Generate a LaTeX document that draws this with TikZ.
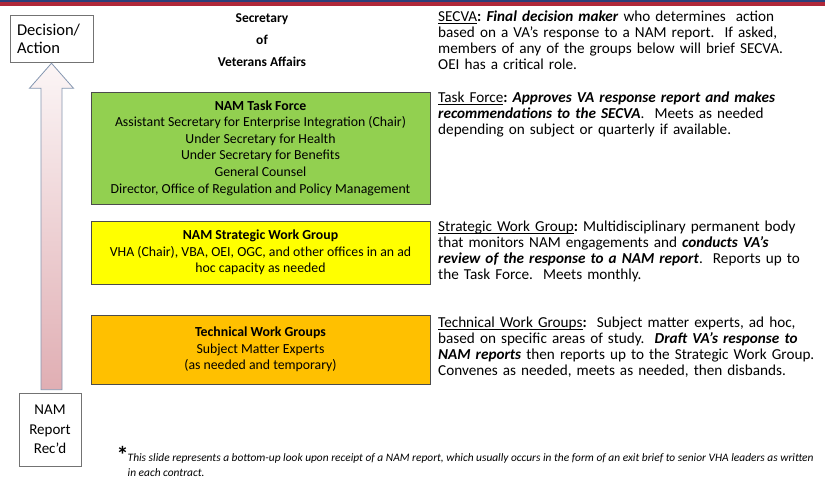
\documentclass[tikz,border=0pt]{standalone}
\usepackage{fontspec}
\setmainfont{Carlito}
\usetikzlibrary{calc}
\frenchspacing
\newcommand\ulabel[1]{\underline{\smash{#1}}}

\definecolor{vablue}{HTML}{2B3F7A}
\definecolor{vared}{HTML}{B0283A}
\definecolor{tfgreen}{HTML}{92D050}
\definecolor{swgyellow}{HTML}{FFFF00}
\definecolor{twgorange}{HTML}{FFC000}
\definecolor{arrowline}{HTML}{8496B0}
\definecolor{arrowpink}{HTML}{E0AEB3}

\begin{document}
\begin{tikzpicture}[x=1pt,y=-1pt,
    group/.style={draw=black!70,line width=0.6pt,minimum width=339pt,align=center,
      font=\fontsize{13.8}{16.6}\selectfont},
    endbox/.style={draw=black!55,line width=0.5pt},
    note/.style={anchor=north west,inner sep=0pt,text width=400pt,align=left,
      font=\fontsize{15.2}{16}\selectfont}]
  \useasboundingbox (0,0) rectangle (825,478);
  \fill[vablue] (0,0) rectangle (825,2.5);
  \fill[vared] (0,2.5) rectangle (825,6);

  % left: bottom-up arrow
  \node[endbox,minimum width=83pt,minimum height=47pt,inner xsep=7pt,text width=69pt,align=left,
    font=\fontsize{16.5}{18}\selectfont] (dec) at (51.5,38.5) {Decision/\\Action};
  \node[endbox,minimum width=62pt,minimum height=73pt,align=center,
    font=\fontsize{15}{19.5}\selectfont] (nam) at (50,429.5) {NAM\\Report\\Rec’d};
  \coordinate (tip) at ($(dec.south)+(0,1)$);
  \coordinate (tail) at (tip |- nam.north);
  \shade[draw=arrowline,line width=0.8pt,top color=arrowpink!12,bottom color=arrowpink]
    (tip) -- ++(-22,25) -- ++(11.5,0) -- ($(tail)+(-10.5,-3)$) -- ($(tail)+(10.5,-3)$)
    -- ($(tip)+(10.5,25)$) -- ++(11.5,0) -- cycle;

  % groups
  \node[align=center,font=\fontsize{13.5}{22}\selectfont\bfseries] (sec) at (262,40) {Secretary\\of\\Veterans Affairs};
  \node[group,fill=tfgreen,minimum height=112pt] (tf) at (260.5,148)
    {\textbf{NAM Task Force}\\Assistant Secretary for Enterprise Integration (Chair)\\Under Secretary for Health\\
     Under Secretary for Benefits\\General Counsel\\Director, Office of Regulation and Policy Management};
  \node[group,fill=swgyellow,minimum height=63pt] (swg) at (260.5,252.5)
    {\textbf{NAM Strategic Work Group}\\VHA (Chair), VBA, OEI, OGC, and other offices in an ad\\hoc capacity as needed};
  \node[group,fill=twgorange,minimum height=69pt] (twg) at (260.5,349.5)
    {\textbf{Technical Work Groups}\\Subject Matter Experts\\(as needed and temporary)};

  % right: roles
  \node[note] (nsec) at (438,10.5)
    {\ulabel{SECVA}\textbf{:} \textbf{\textit{Final decision maker}} who determines~ action\\
     based on a VA’s response to a NAM report.~ If asked,\\
     members of any of the groups below will brief SECVA.\\
     OEI has a critical role.};
  \node[note] (ntf) at (438,92)
    {\ulabel{Task Force}\textbf{:} \textbf{\textit{Approves VA response report and makes}}\\
     \textbf{\textit{recommendations to the SECVA}}.~ Meets as needed\\
     depending on subject or quarterly if available.};
  \node[note] (nswg) at (438,221)
    {\ulabel{Strategic Work Group}\textbf{:} Multidisciplinary permanent body\\
     that monitors NAM engagements and \textbf{\textit{conducts VA’s}}\\
     \textbf{\textit{review of the response to a NAM report}}.~ Reports up to\\
     the Task Force.~ Meets monthly.};
  \node[note] (ntwg) at (438,317)
    {\ulabel{Technical Work Groups}\textbf{:}~ Subject matter experts, ad hoc,\\
     based on specific areas of study.~ \textbf{\textit{Draft VA’s response to}}\\
     \textbf{\textit{NAM reports}} then reports up to the Strategic Work Group.\\
     Convenes as needed, meets as needed, then disbands.};

  % footnote
  \node[anchor=base,inner sep=0pt,font=\fontsize{24}{24}\selectfont\bfseries] (star) at (122.5,463) {*};
  \node[anchor=north west,inner sep=0pt,align=left,font=\fontsize{11.4}{14.5}\selectfont\itshape] (foot) at (127.5,453.5)
    {This slide represents a bottom-up look upon receipt of a NAM report, which usually occurs in the form of an exit brief to senior VHA leaders as written\\
     in each contract.};
\end{tikzpicture}
\end{document}
